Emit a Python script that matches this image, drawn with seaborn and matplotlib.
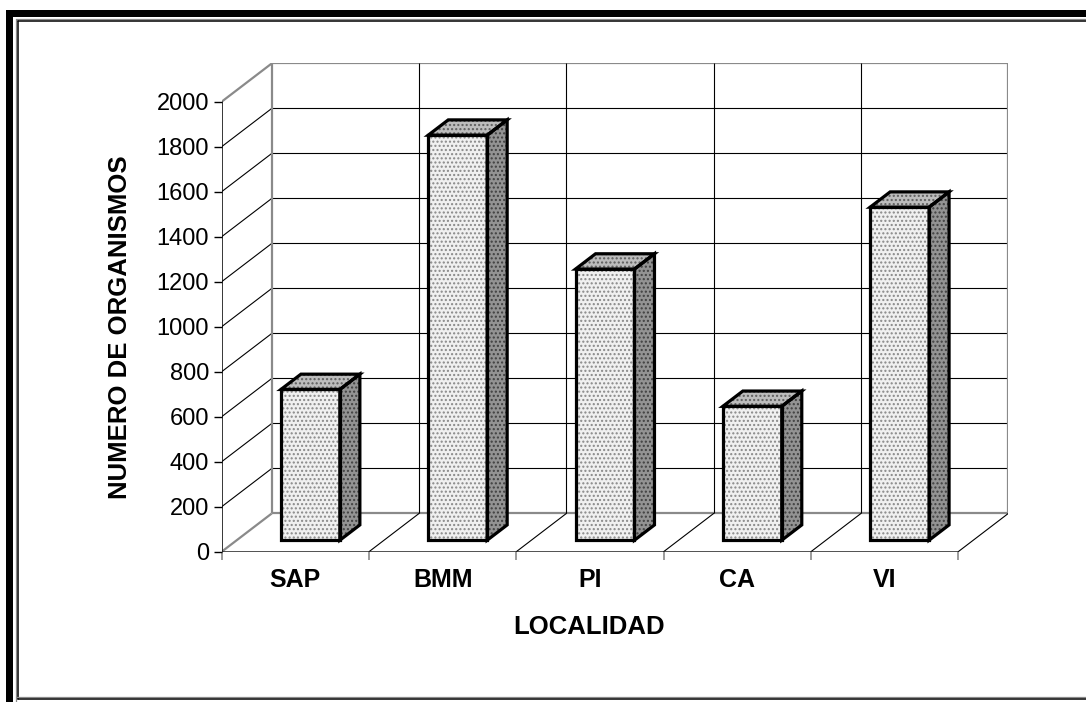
import matplotlib
matplotlib.use("Agg")
import matplotlib.pyplot as plt
from matplotlib.patches import Polygon, Rectangle
from matplotlib.lines import Line2D
from matplotlib.transforms import Affine2D
import seaborn as sns
import pandas as pd

# Data
localidades = ["SAP", "BMM", "PI", "CA", "VI"]
organismos = [670, 1800, 1205, 595, 1480]
y_ticks = [0, 200, 400, 600, 800, 1000, 1200, 1400, 1600, 1800, 2000]

df = pd.DataFrame({"LOCALIDAD": localidades, "ORGANISMOS": organismos})

sns.set_theme(style="white")
plt.rcParams["font.family"] = ["Liberation Sans", "DejaVu Sans"]
plt.rcParams["hatch.linewidth"] = 1.0

# 3-D projection of the depth axis (in data units)
DX, DY = 0.34, 170.0
F0, F1 = 0.30, 0.70          # bar front/back depth fractions
YMAX = 2000

GRAY = "#8a8a8a"
fig = plt.figure(figsize=(10.86, 7.02), dpi=100)
ax = fig.add_axes([221.7 / 1086, 1 - 551.7 / 702, 786.6 / 1086, 488.3 / 702])

sns.barplot(data=df, x="LOCALIDAD", y="ORGANISMOS", order=localidades,
            width=0.4, color="#f2f2f2", saturation=1, ax=ax, zorder=4)

ax.set_xlim(-0.5, 4.5 + DX)
ax.set_ylim(0, YMAX + DY)
for s in ax.spines.values():
    s.set_visible(False)

n = len(localidades)
# side wall (left) diagonals
for v in y_ticks:
    c, lw = (GRAY, 1.6) if v in (0, YMAX) else ("black", 0.8)
    ax.plot([-0.5, -0.5 + DX], [v, v + DY], color=c, lw=lw, zorder=1,
            solid_capstyle="butt")
# back wall horizontal gridlines
for v in y_ticks:
    c, lw = (GRAY, 1.6) if v in (0, YMAX) else ("black", 0.8)
    ax.plot([-0.5 + DX, n - 0.5 + DX], [v + DY, v + DY], color=c, lw=lw,
            zorder=1, solid_capstyle="butt")
# back wall verticals
for k in range(n + 1):
    xb = k - 0.5 + DX
    c, lw = (GRAY, 1.6) if k in (0, n) else ("black", 0.8)
    ax.plot([xb, xb], [DY, YMAX + DY], color=c, lw=lw, zorder=1,
            solid_capstyle="butt")
# floor diagonals at category boundaries
for k in range(1, n + 1):
    ax.plot([k - 0.5, k - 0.5 + DX], [0, DY], color="black", lw=0.8, zorder=1)
# front axis and front floor edge
ax.plot([-0.5, -0.5], [0, YMAX], color="black", lw=1.1, zorder=2)
ax.plot([-0.5, n - 0.5], [0, 0], color="#222222", lw=1.1, zorder=2)

# 3-D bars built from the seaborn bar rectangles
shift = Affine2D().translate(F0 * DX, F0 * DY) + ax.transData
d = F1 - F0
for i, p in enumerate(ax.patches[:n]):
    x0 = p.get_x() + F0 * DX
    w = p.get_width()
    h = p.get_height()
    x1 = x0 + w
    yb = F0 * DY
    yt = h + F0 * DY
    ddx, ddy = d * DX, d * DY
    p.set_transform(shift)
    p.set_facecolor("#f0f0f0")
    p.set_edgecolor("#888888")
    p.set_linewidth(0)
    p.set_hatch("....")
    p.set_zorder(4)
    top = [(x0, yt), (x1, yt), (x1 + ddx, yt + ddy), (x0 + ddx, yt + ddy)]
    side = [(x1, yb), (x1 + ddx, yb + ddy), (x1 + ddx, yt + ddy), (x1, yt)]
    front = [(x0, yb), (x1, yb), (x1, yt), (x0, yt)]
    ax.add_patch(Polygon(top, closed=True, facecolor="#bdbdbd",
                         edgecolor="#5e5e5e", lw=0, hatch="....", zorder=4))
    ax.add_patch(Polygon(side, closed=True, facecolor="#939393",
                         edgecolor="#404040", lw=0, hatch="....", zorder=4))
    for poly in (top, side, front):
        ax.add_patch(Polygon(poly, closed=True, fill=False, edgecolor="black",
                             lw=2.3, joinstyle="miter", zorder=5))

# Ticks
ax.set_yticks(y_ticks)
ax.set_yticklabels([str(v) for v in y_ticks])
ax.tick_params(axis="y", which="major", direction="out", length=6, width=1.0,
               color="black", pad=3, labelsize=17, left=True, labelcolor="black")
ax.set_xticks(range(n))
ax.set_xticklabels(localidades, fontweight="bold")
ax.set_xticks([k - 0.5 for k in range(n + 1)], minor=True)
ax.tick_params(axis="x", which="major", length=0, pad=12, labelsize=18,
               labelcolor="black")
ax.tick_params(axis="x", which="minor", direction="out", length=6, width=1.2,
               color=GRAY, bottom=True)
ax.grid(False)

ax.set_xlabel("LOCALIDAD", fontsize=18.5, fontweight="bold", color="black")
ax.set_ylabel("NUMERO DE ORGANISMOS", fontsize=18.5, fontweight="bold",
              color="black")
ax.xaxis.set_label_coords(0.467, -0.154)
ax.xaxis.label.set_va("center")
ax.yaxis.set_label_coords(-0.129, 0.46)
ax.yaxis.label.set_va("center")

# Frame around the chart (figure pixel units)
W, H = 1086, 702
def fx(x):
    return x / W
def fy(y):
    return 1 - y / H
fig.add_artist(Rectangle((fx(6), fy(702)), 7.3 / W, 692 / H, color="black",
                         transform=fig.transFigure, lw=0))
fig.add_artist(Rectangle((fx(6), fy(17.3)), 1080 / W, 7.3 / H, color="black",
                         transform=fig.transFigure, lw=0))
fig.add_artist(Line2D([fx(15.5), fx(15.5)], [fy(18.8), fy(702)], color=GRAY,
                      lw=0.9, transform=fig.transFigure))
fig.add_artist(Line2D([fx(15.5), fx(1086)], [fy(18.8), fy(18.8)], color=GRAY,
                      lw=0.9, transform=fig.transFigure))
fig.add_artist(Line2D([fx(17.8), fx(17.8)], [fy(21.2), fy(699.3)], color="black",
                      lw=1.1, transform=fig.transFigure))
fig.add_artist(Line2D([fx(17.8), fx(1086)], [fy(21.2), fy(21.2)], color="black",
                      lw=1.1, transform=fig.transFigure))
fig.add_artist(Line2D([fx(15.5), fx(1086)], [fy(697), fy(697)], color=GRAY,
                      lw=0.9, transform=fig.transFigure))
fig.add_artist(Line2D([fx(17.8), fx(1086)], [fy(699.3), fy(699.3)], color="black",
                      lw=1.1, transform=fig.transFigure))

fig.savefig("out.png", dpi=100)
